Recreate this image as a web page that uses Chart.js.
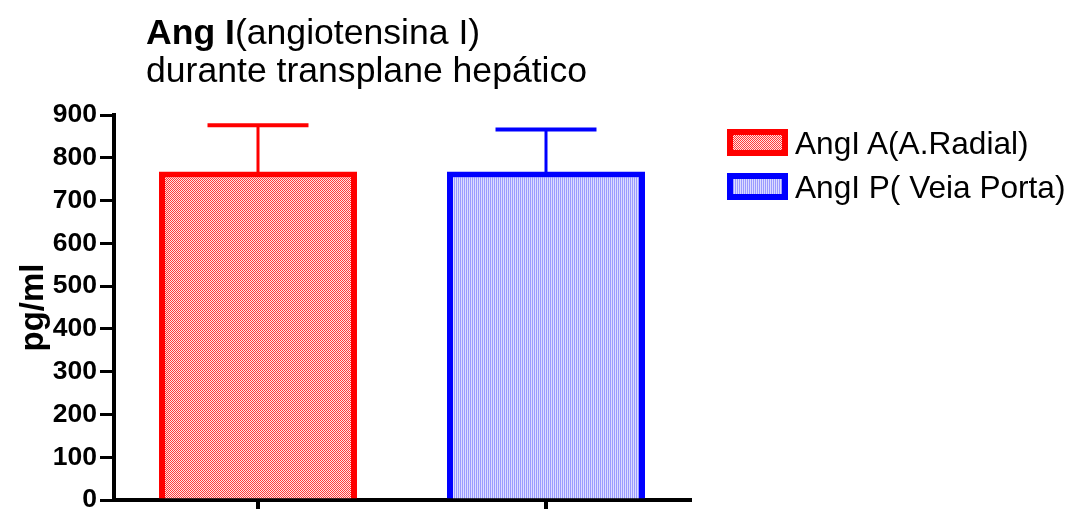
<!DOCTYPE html>
<html>
<head>
<meta charset="utf-8">
<script src="https://cdn.jsdelivr.net/npm/chart.js@4.4.1/dist/chart.umd.min.js"></script>
<style>
  html, body { margin: 0; padding: 0; background: #fff; }
  #wrap { position: relative; width: 1073px; height: 509px; overflow: hidden; font-family: 'Liberation Sans', Arial, sans-serif; }
  #c { position: absolute; left: 0; top: 0; }
  .title { position: absolute; left: 146px; top: 13px; font-size: 35.6px; line-height: 38px; color: #000; white-space: nowrap; }
  .title b { font-weight: bold; }
  .legend { position: absolute; left: 727px; top: 129px; }
  .item { position: absolute; left: 0; height: 27px; white-space: nowrap; }
  .item canvas { position: absolute; left: 0; top: 0; }
  .item span { position: absolute; left: 68px; top: 50%; transform: translateY(-50%); font-size: 31.6px; line-height: 32px; color: #000; }
</style>
</head>
<body>
<div id="wrap">
  <canvas id="c" width="1073" height="509"></canvas>
  <div class="title"><b>Ang I</b>(angiotensina I)<br>durante transplane hepático</div>
  <div class="legend">
    <div class="item" style="top:0px"><canvas id="sw0" width="61" height="27"></canvas><span id="lg0"></span></div>
    <div class="item" style="top:44px"><canvas id="sw1" width="61" height="27"></canvas><span id="lg1"></span></div>
  </div>
</div>
<script>
// ---- data ----
const categories = ['AngI A', 'AngI P'];
const seriesLabels = ['AngI A(A.Radial)', 'AngI P( Veia Porta)'];
const meanValues = [768, 768];
const errorTop = [876, 866];
const yAxisTitle = 'pg/ml';
const yMin = 0, yMax = 900, yStep = 100;
const seriesColors = ['#ff0000', '#0000ff'];

// ---- patterns ----
function makePattern(kind) {
  const p = document.createElement('canvas');
  const g = p.getContext('2d');
  if (kind === 0) {
    p.width = 2; p.height = 2;
    g.fillStyle = '#ffe4e4'; g.fillRect(0, 0, 2, 2);
    g.fillStyle = '#ff3a3a'; g.fillRect(0, 0, 1, 1); g.fillRect(1, 1, 1, 1);
  } else {
    p.width = 2; p.height = 2;
    g.fillStyle = '#dcdcff'; g.fillRect(0, 0, 2, 2);
    g.fillStyle = '#9a9aff'; g.fillRect(0, 0, 1, 2);
  }
  return document.getElementById('c').getContext('2d').createPattern(p, 'repeat');
}
const patterns = [makePattern(0), makePattern(1)];

// legend swatches
[0, 1].forEach(i => {
  const s = document.getElementById('sw' + i).getContext('2d');
  s.fillStyle = seriesColors[i]; s.fillRect(0, 0, 61, 27);
  s.fillStyle = patterns[i]; s.fillRect(6, 6, 49, 15);
  document.getElementById('lg' + i).textContent = seriesLabels[i];
});

const datasets = seriesLabels.map((lab, i) => ({
  label: lab,
  data: categories.map((c, j) => (j === i ? meanValues[i] : null)),
  errTop: categories.map((c, j) => (j === i ? errorTop[i] : null)),
  backgroundColor: patterns[i],
  borderColor: seriesColors[i],
  borderWidth: 6,
  borderSkipped: 'start',
  skipNull: true,
  barPercentage: 0.6875,
  categoryPercentage: 1.0
}));

const errorBars = {
  id: 'errorBars',
  afterDatasetsDraw(chart) {
    const ctx = chart.ctx;
    const ys = chart.scales.y;
    chart.data.datasets.forEach((ds, i) => {
      const meta = chart.getDatasetMeta(i);
      meta.data.forEach((el, j) => {
        if (ds.data[j] == null) return;
        const top = ys.getPixelForValue(ds.errTop[j]);
        const half = el.width * 0.255;
        ctx.save();
        ctx.strokeStyle = ds.borderColor;
        ctx.lineWidth = 3;
        ctx.beginPath();
        ctx.moveTo(el.x, el.y + 1);
        ctx.lineTo(el.x, top);
        ctx.stroke();
        ctx.lineWidth = 4;
        ctx.beginPath();
        ctx.moveTo(el.x - half, top);
        ctx.lineTo(el.x + half, top);
        ctx.stroke();
        ctx.restore();
      });
    });
  }
};

const FONT = "'Liberation Sans', Arial, sans-serif";

new Chart(document.getElementById('c'), {
  type: 'bar',
  data: { labels: categories, datasets },
  plugins: [errorBars],
  options: {
    responsive: false,
    animation: false,
    layout: { padding: { top: 115, right: 383, bottom: 0, left: 0 } },
    plugins: { legend: { display: false }, title: { display: false }, tooltip: { enabled: false } },
    scales: {
      x: {
        grid: { display: true, drawOnChartArea: false, drawTicks: true, tickLength: 10, lineWidth: 4, color: '#000', offset: false },
        border: { display: true, width: 4, color: '#000' },
        ticks: { display: false },
        afterFit(s) { s.height = 9; }
      },
      y: {
        min: yMin, max: yMax,
        grid: { display: true, drawOnChartArea: false, drawTicks: true, tickLength: 14, lineWidth: 3, color: '#000' },
        border: { display: true, width: 4, color: '#000' },
        ticks: { stepSize: yStep, padding: 3, color: '#000', font: { family: FONT, size: 26.5, weight: 'bold' } },
        title: { display: true, text: yAxisTitle, color: '#000', padding: { top: 14, bottom: 0 }, font: { family: FONT, size: 33, weight: 'bold' } },
        afterFit(s) { s.width = 114; s.paddingTop = 0; s.paddingBottom = 0; }
      }
    }
  }
});
</script>
</body>
</html>
